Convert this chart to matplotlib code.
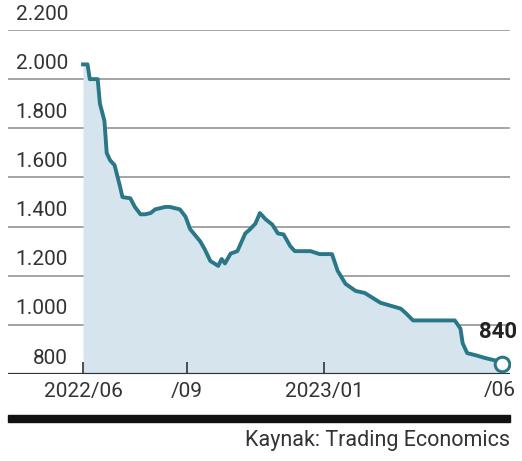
import matplotlib
matplotlib.use("Agg")
import matplotlib.pyplot as plt
import matplotlib.dates as mdates
from matplotlib.patches import Rectangle
import numpy as np
import datetime as dt

plt.rcParams['font.family'] = ['Roboto', 'DejaVu Sans']

dates = ["2022-06-01", "2022-06-05", "2022-06-07", "2022-06-14", "2022-06-16",
         "2022-06-20", "2022-06-22", "2022-06-25", "2022-06-29", "2022-07-04",
         "2022-07-06", "2022-07-13", "2022-07-17", "2022-07-22", "2022-07-26",
         "2022-07-31", "2022-08-04", "2022-08-13", "2022-08-17", "2022-08-26",
         "2022-08-31", "2022-09-04", "2022-09-13", "2022-09-17", "2022-09-22",
         "2022-09-29", "2022-10-02", "2022-10-05", "2022-10-10", "2022-10-16",
         "2022-10-23", "2022-10-27", "2022-11-01", "2022-11-05", "2022-11-10",
         "2022-11-16", "2022-11-21", "2022-11-26", "2022-12-02", "2022-12-06",
         "2022-12-20", "2022-12-28", "2023-01-08", "2023-01-13", "2023-01-20",
         "2023-01-29", "2023-02-06", "2023-02-13", "2023-02-20", "2023-03-01",
         "2023-03-10", "2023-03-14", "2023-03-21", "2023-04-27", "2023-05-02",
         "2023-05-04", "2023-05-08", "2023-05-15", "2023-05-24", "2023-06-02",
         "2023-06-08"]
values = [2060, 2060, 2000, 2000, 1900,
          1830, 1700, 1670, 1650, 1560,
          1520, 1515, 1480, 1450, 1450,
          1455, 1470, 1480, 1480, 1470,
          1440, 1390, 1340, 1308, 1260,
          1240, 1268, 1250, 1290, 1300,
          1372, 1388, 1412, 1455, 1430,
          1408, 1372, 1368, 1320, 1300,
          1300, 1288, 1288, 1220, 1167,
          1138, 1130, 1110, 1090, 1078,
          1066, 1050, 1018, 1018, 985,
          925, 885, 877, 865, 855,
          840]
y_ticks = [800, 1000, 1200, 1400, 1600, 1800, 2000, 2200]
y_labels = ["800", "1.000", "1.200", "1.400", "1.600", "1.800", "2.000", "2.200"]
x_ticks = ["2022-06-01", "2022-09-01", "2023-01-01"]
x_labels = ["2022/06", "/09", "2023/01"]
x_last_label = ("2023-06-01", "/06")
last_label = "840"
source = "Kaynak: Trading Economics"

W, H = 522, 461
FS = 15
TXT = "#333333"
fig = plt.figure(figsize=(W / 100, H / 100), dpi=100)
ax = fig.add_axes([8 / W, 1 - 374 / H, (510 - 8) / W, (374 - 30) / H])

x = np.array([mdates.date2num(dt.date.fromisoformat(d)) for d in dates])
v = np.array(values)
LINE = "#2a7788"
FILL = "#d6e4ee"

ax.fill_between(x, v, 800, color=FILL, lw=0, zorder=1)
for yt in y_ticks[1:]:
    ax.axhline(yt, color="#8c8c8c", lw=1.1, zorder=0.5)
ax.axhline(800, color="#333333", lw=1.6, zorder=3)
ax.plot(x, v, color=LINE, lw=2.8, zorder=4, solid_joinstyle='round')
ax.plot(x[-1], v[-1], 'o', ms=10.5, mfc='white', mec=LINE, mew=2.2, zorder=5)

x0 = mdates.date2num(dt.date(2022, 6, 1))
ax.set_xlim(x0 - 66.6, x0 + 379)
ax.set_ylim(800, 2200)
for s in ax.spines.values():
    s.set_visible(False)
ax.set_yticks([])
xt = [mdates.date2num(dt.date.fromisoformat(d)) for d in x_ticks]
ax.set_xticks(xt)
ax.set_xticklabels(x_labels, fontsize=FS, color=TXT)
ax.tick_params(axis='x', direction='in', length=9, width=1.2, color="#333333", pad=6)

ytr = ax.get_yaxis_transform()
lab_x = (68 - 8) / (510 - 8)
for yt, lab in zip(y_ticks, y_labels):
    ax.text(lab_x, yt + 26, lab, transform=ytr,
            ha='right', va='bottom', fontsize=FS, color=TXT)

xl = mdates.date2num(dt.date.fromisoformat(x_last_label[0]))
ax.text(xl + 5, -0.02, x_last_label[1], transform=ax.get_xaxis_transform(),
        ha='center', va='top', fontsize=FS, color=TXT)

ax.text(x[-1] - 4, v[-1] + 85, last_label, ha='center', va='bottom',
        fontsize=16, fontweight='bold', color="#222222", zorder=6)

fig.patches.append(Rectangle((8 / W, 1 - 422 / H), (510 - 8) / W, 7 / H,
                             transform=fig.transFigure, color="#111111"))
fig.text(510 / W, 1 - 440 / H, source, ha='right', va='center',
         fontsize=15.5, color=TXT)

fig.savefig("out.png", dpi=100)
